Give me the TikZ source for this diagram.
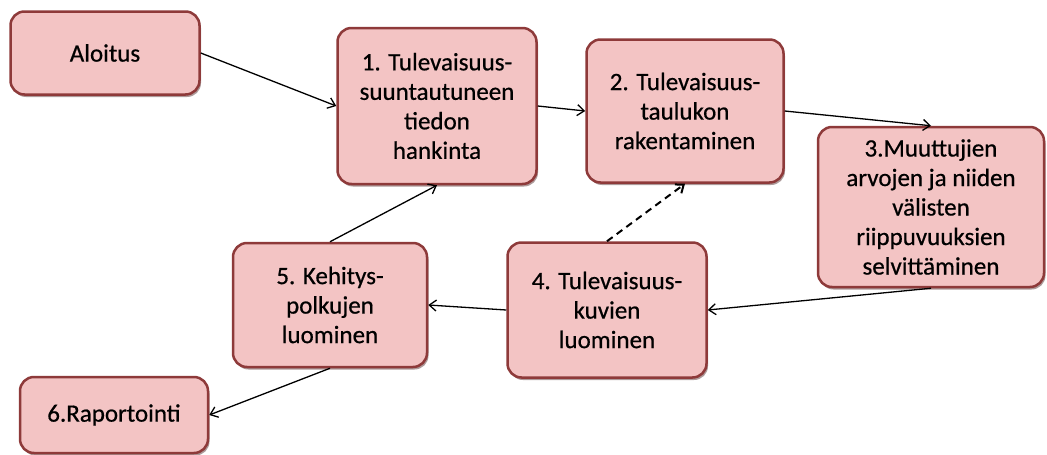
\documentclass[tikz,border=0pt]{standalone}
\usepackage{fontspec}
\setmainfont{Carlito}
\newfontfamily\stagefont{Carlito}[FakeBold=0.6]
\usepackage{tikz}
\usetikzlibrary{arrows.meta,shadows}
\definecolor{stagefill}{HTML}{F3C4C4}
\definecolor{stageline}{HTML}{8E3A3A}
\definecolor{stageshadow}{HTML}{8A7070}
\tikzset{
  stage/.style={rectangle,rounded corners=14pt,draw=stageline,fill=stagefill,
    line width=2.5pt,align=center,inner sep=2pt,
    font=\stagefont\fontsize{25}{29.5}\selectfont,
    drop shadow={shadow xshift=1.5pt,shadow yshift=-2.5pt,fill=stageshadow,opacity=0.7}},
  flow/.style={draw=black,line width=1.3pt,-{Straight Barb[length=7pt,width=11pt]}},
  dashed flow/.style={flow,dashed,dash pattern=on 7pt off 5pt,line width=2pt}
}

\begin{document}
\begin{tikzpicture}[x=1pt,y=-1pt]
  \useasboundingbox (0,0) rectangle (1047,455);
  % stages
  \node[stage,minimum width=189pt,minimum height=83pt] (start) at (105,53) {Aloitus};
  \node[stage,minimum width=199pt,minimum height=156pt] (s1) at (437,106)
    {1. Tulevaisuus-\\suuntautuneen\\tiedon\\hankinta};
  \node[stage,minimum width=197pt,minimum height=143pt] (s2) at (685,111)
    {2. Tulevaisuus-\\taulukon\\rakentaminen};
  \node[stage,minimum width=226pt,minimum height=160pt] (s3) at (931,207)
    {3.Muuttujien\\arvojen ja niiden\\välisten\\riippuvuuksien\\selvittäminen};
  \node[stage,minimum width=199pt,minimum height=135pt] (s4) at (607,310)
    {4. Tulevaisuus-\\kuvien\\luominen};
  \node[stage,minimum width=194pt,minimum height=124pt] (s5) at (330,305)
    {5. Kehitys-\\polkujen\\luominen};
  \node[stage,minimum width=188pt,minimum height=76pt] (s6) at (114,415) {6.Raportointi};
  % connectors
  \draw[flow] (start.east) -- (s1.west);
  \draw[flow] (s1.east) -- (s2.west);
  \draw[flow] (s2.east) -- (s3.north);
  \draw[flow] (s3.south) -- (s4.east);
  \draw[flow] (s4.west) -- (s5.east);
  \draw[dashed flow] (s4.north) -- (s2.south);
  \draw[flow] (s5.north) -- (s1.south);
  \draw[flow] (s5.south) -- (s6.east);
\end{tikzpicture}
\end{document}
